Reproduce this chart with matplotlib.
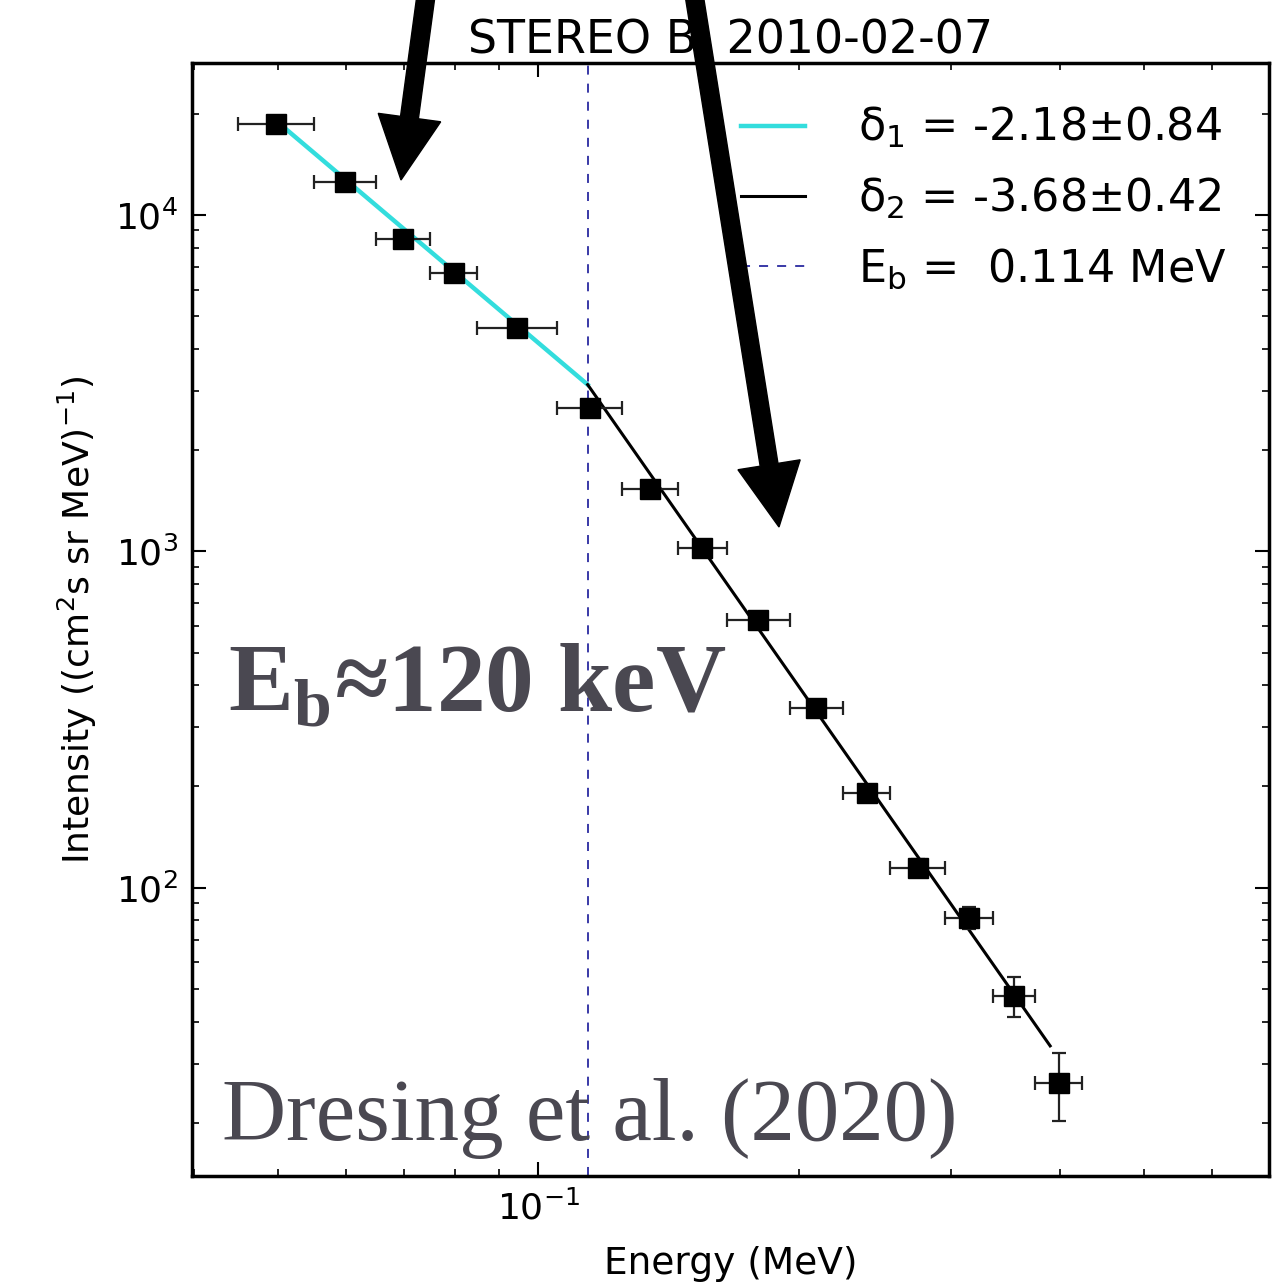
import numpy as np
import matplotlib
matplotlib.use("Agg")
import matplotlib.pyplot as plt
from matplotlib.patches import FancyArrow

plt.rcParams['font.family'] = ['DejaVu Sans']
plt.rcParams['mathtext.fontset'] = 'dejavusans'
plt.rcParams['mathtext.rm'] = 'Liberation Serif'
plt.rcParams['mathtext.bf'] = 'Liberation Serif:bold'
plt.rcParams['axes.unicode_minus'] = False

# SEPT electron channels (MeV) and measured peak intensities
e_low = [0.045, 0.055, 0.065, 0.075, 0.085, 0.105, 0.125, 0.145,
         0.165, 0.195, 0.225, 0.255, 0.295, 0.335, 0.375]
e_high = [0.055, 0.065, 0.075, 0.085, 0.105, 0.125, 0.145, 0.165,
          0.195, 0.225, 0.255, 0.295, 0.335, 0.375, 0.425]
intensity = [18640, 12530, 8490, 6720, 4615, 2670, 1533, 1024,
             626, 343, 191.6, 114.7, 81.4, 47.8, 26.3]
intensity_err = [300, 200, 150, 120, 90, 60, 40, 30,
                 20, 14, 9, 7, 6, 6.5, 6]

# broken power-law fit
delta1 = -2.18
delta2 = -3.68
e_break = 0.114
i_break = 3130
fit_range = [0.0497, 0.39]

title = "STEREO B  2010-02-07"
text_col = '#4a4851'

e_low = np.array(e_low)
e_high = np.array(e_high)
energy = np.sqrt(e_low * e_high)
xerr = [energy - e_low, e_high - energy]

fig = plt.figure(figsize=(12.81, 12.83), dpi=100)
ax = fig.add_axes([192 / 1281, 1 - 1176 / 1283, 1077 / 1281, 1113 / 1283])

ax.errorbar(energy, intensity, xerr=xerr, yerr=intensity_err, fmt='s',
            color='black', ms=14, ecolor='#222222', elinewidth=1.6,
            capsize=5, capthick=1.6, zorder=3)

e1 = np.linspace(fit_range[0], e_break, 50)
e2 = np.linspace(e_break, fit_range[1], 50)
ax.plot(e1, i_break * (e1 / e_break) ** delta1, color='#33dddd', lw=3.2,
        label=r'δ$_1$ = -2.18$\pm$0.84', zorder=2)
ax.plot(e2, i_break * (e2 / e_break) ** delta2, color='black', lw=2.2,
        label=r'δ$_2$ = -3.68$\pm$0.42', zorder=2)
ax.axvline(e_break, color='#2a2aa0', ls='--', lw=1.3, dashes=(5, 5),
           label=r'E$_\mathrm{b}$ =  0.114 MeV', zorder=1)

ax.set_xscale('log')
ax.set_yscale('log')
ax.set_xlim(0.0398, 0.698)
ax.set_ylim(13.9, 28300)

ax.tick_params(which='both', direction='in', top=True, right=True)
ax.tick_params(which='major', length=10, width=1.5, labelsize=26, pad=10)
ax.tick_params(which='minor', length=5, width=1.2)
for s in ax.spines.values():
    s.set_linewidth(2.5)

ax.set_xlabel('Energy (MeV)', fontsize=27, labelpad=14)
ax.set_ylabel(r'Intensity ((cm$^2$s sr MeV)$^{-1}$)', fontsize=26, labelpad=12)
ax.set_title(title, fontsize=33, pad=6)

ax.legend(loc='upper right', bbox_to_anchor=(0.99, 0.99), frameon=False,
          fontsize=32, handlelength=1.45, handletextpad=1.2,
          labelspacing=0.57, borderaxespad=0.3)

ax.text(0.033, 0.417, r'E$_\mathbf{b}$≈120 keV', transform=ax.transAxes,
        fontsize=70, fontweight='bold', family='Liberation Serif',
        math_fontfamily='custom', color=text_col, ha='left', va='baseline')
ax.text(0.028, 0.032, 'Dresing et al. (2020)', transform=ax.transAxes,
        fontsize=64, family='Liberation Serif', color=text_col,
        ha='left', va='baseline')

# pointer arrows (figure inches)
for (x0, y0), (x1, y1) in [((4.27, 12.95), (4.01, 11.03)),
                           ((6.93, 12.95), (7.79, 7.56))]:
    fig.add_artist(FancyArrow(x0, y0, x1 - x0, y1 - y0, width=0.18,
                              head_width=0.63, head_length=0.63,
                              length_includes_head=True, color='black',
                              transform=fig.dpi_scale_trans, zorder=10))

fig.savefig('out.png', dpi=100)
